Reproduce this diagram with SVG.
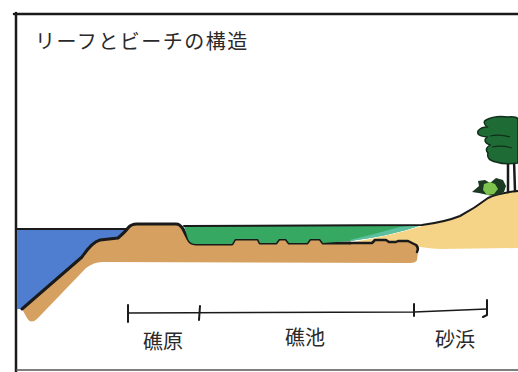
<svg xmlns="http://www.w3.org/2000/svg" width="518" height="372" viewBox="0 0 518 372">
  <style>
    .ink { fill: none; stroke: #1a1a1a; stroke-linecap: round; stroke-linejoin: round; }
    .label { font-family: "Noto Sans CJK JP", "Noto Sans", sans-serif; fill: #2a2a2a; }
  </style>
  <rect width="518" height="372" fill="#ffffff"/>

  <!-- frame -->
  <g id="frame">
    <path class="ink" d="M14,14 L518,14" stroke-width="2.5"/>
    <path class="ink" d="M16,13 L16,372" stroke-width="2.5"/>
    <path d="M16,370 L518,370" stroke="#555" stroke-width="1.5"/>
  </g>

  <!-- title -->
  <text class="label" x="35" y="49" font-size="20" letter-spacing="1.5">リーフとビーチの構造</text>

  <g id="sea">
    <path d="M17,229 L126,229 L120,237 L100,240 Q92,242 82,257 L22,309 L17,309 Z" fill="#4f7ed0"/>
    <path class="ink" d="M16,229 L126,229" stroke-width="1.8"/>
  </g>

  <g id="beach">
    <path d="M348,243 Q390,236 422,226 Q445,222 460,216 Q475,208 488,198 Q498,193 518,191 L518,248 L440,249 Q424,248 416,246 Z" fill="#f5d487"/>
  </g>

  <g id="reef">
    <path d="M22,309 L82,257 Q92,242 100,240 L118,238 Q125,232 128,228 Q131,224 137,224 L176,224 Q180,224 183,229 L188,239 Q190,244 196,244 L232,244 L235,239 L258,239 L260,243 L276,243 L279,239 L286,239 L289,243 L307,243 L310,239 L320,239 L323,243 L372,243 L375,240 L386,240 L389,242 L396,242 L398,241 L408,241 L412,243 L417,244 Q421,248 418,252 L417,260 Q416,263 410,263 L102,262 Q94,262 86,268 L38,318 Q31,325 27,318 Z" fill="#d6a060"/>
    <path class="ink" stroke-width="3" d="M22,309 L82,257 Q92,242 100,240 L118,238 Q125,232 128,228 Q131,224 137,224 L176,224 Q180,224 183,229 L188,239 Q190,244 196,244 L232,244 L235,239 L258,239 L260,243 L276,243 L279,239 L286,239 L289,243 L307,243 L310,239 L320,239 L323,243 L350,243"/>
    <path class="ink" stroke-width="2.5" d="M350,243 L372,243 L375,240 L386,240 L389,242 L396,242 L398,241 L408,241 L412,243 L416,245 Q419,248 417,252"/>
  </g>

  <g id="lagoon">
    <path d="M184,226 L422,225 Q390,236 350,241 L323,243 L320,239 L310,239 L307,243 L289,243 L286,239 L279,239 L276,243 L260,243 L258,239 L235,239 L232,244 L196,244 Q190,244 188,239 Z" fill="#36a862"/>
    <path d="M350,241 Q390,236 422,225 L400,227 Q375,234 350,240 Z" fill="#5cc0a0"/>
    <path class="ink" stroke-width="2" d="M184,226 L422,225 Q445,222 460,216 Q475,208 488,198 Q498,193 518,191"/>
  </g>

  <g id="tree">
    <path class="ink" stroke-width="2.5" d="M508,158 L508,192 M514,160 L515,191"/>
    <path d="M486,120 Q495,115 508,117 Q518,116 518,120 L518,163 Q505,165 496,162 Q486,160 488,153 Q484,149 490,145 Q482,142 487,137 Q476,136 478,131 Q481,127 487,127 Q482,122 486,120 Z" fill="#1f6b35" stroke="#10301a" stroke-width="1.5"/>
    <path d="M490,136 Q500,134 510,137 M492,147 Q502,145 512,148" fill="none" stroke="#10301a" stroke-width="1.2"/>
    <path d="M472,192 L479,186 L478,181 L485,180 L490,183 L496,178 L503,180 L506,186 L504,192 Q496,197 488,195 Q480,193 472,192 Z" fill="#1c3a22"/>
    <path d="M484,184 L490,182 L495,184 L498,189 L494,194 L487,195 L483,190 Z" fill="#7cc24c"/>
  </g>

  <!-- zone scale -->
  <g id="scale">
    <path class="ink" stroke-width="1.6" d="M128,313 L414,312 L487,309"/>
    <path class="ink" stroke-width="2" d="M128,305 L128,322 M200,306 L199,320 M414,304 L414,316 M487,300 L487,315 L483,317"/>
  </g>

  <g id="zone-labels">
    <text class="label" x="163" y="349" font-size="20" text-anchor="middle">礁原</text>
    <text class="label" x="305" y="345" font-size="20" text-anchor="middle">礁池</text>
    <text class="label" x="455" y="347" font-size="20" text-anchor="middle">砂浜</text>
  </g>
</svg>
